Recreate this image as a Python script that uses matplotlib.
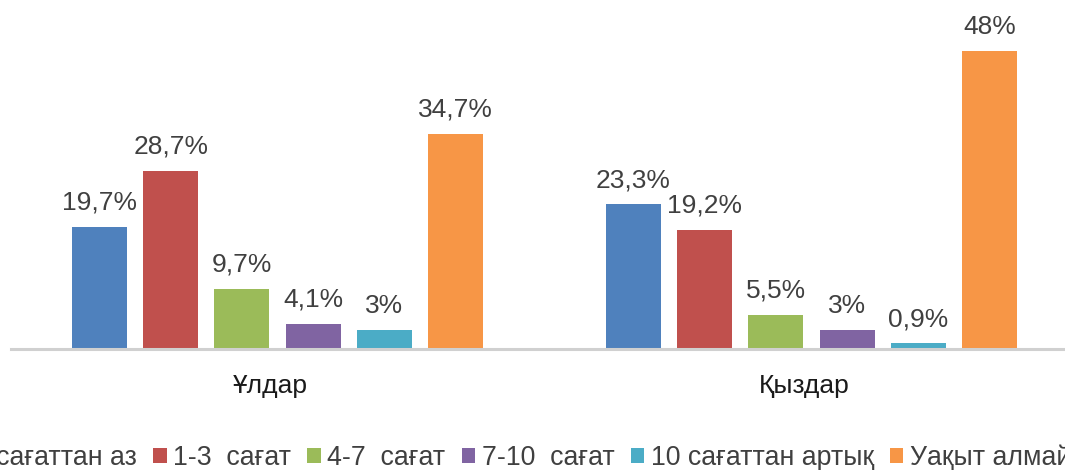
import matplotlib
matplotlib.use("Agg")
import matplotlib.pyplot as plt
import matplotlib.transforms as mtransforms
import numpy as np

plt.rcParams['font.family'] = ['Liberation Sans', 'DejaVu Sans']

categories = ["Ұлдар", "Қыздар"]
series_names = ["1 сағаттан аз", "1-3  сағат", "4-7  сағат", "7-10  сағат",
                "10 сағаттан артық", "Уақыт алмаймын"]
values = [
    [19.7, 23.3],
    [28.7, 19.2],
    [9.7, 5.5],
    [4.1, 3.0],
    [3.0, 0.9],
    [34.7, 48.0],
]
value_labels = [
    ["19,7%", "23,3%"],
    ["28,7%", "19,2%"],
    ["9,7%", "5,5%"],
    ["4,1%", "3%"],
    ["3%", "0,9%"],
    ["34,7%", "48%"],
]
colors = ["#4F81BD", "#C0504D", "#9BBB59", "#8064A2", "#4BACC6", "#F79646"]

W, H = 1065, 470
fig = plt.figure(figsize=(W / 100, H / 100), dpi=100)
ax_left_px, ax_right_px = 10.5, 1078.5
ax_bottom_px = 121
ax = fig.add_axes([ax_left_px / W, ax_bottom_px / H,
                   (ax_right_px - ax_left_px) / W, (H - ax_bottom_px) / H])
ax.set_xlim(-0.5, 1.5)
ax.set_ylim(0, 349 / 6.21)

x = np.arange(len(categories))
step = 71.2 / 534
width = 55 / 534
text_color = "#404040"
for i, (name, vals) in enumerate(zip(series_names, values)):
    pos = x + (i - 2.5) * step
    ax.bar(pos, vals, width, color=colors[i], label=name, zorder=2)
    for p, v, lab in zip(pos, vals, value_labels[i]):
        ax.annotate(lab, (p, v), xytext=(0, 12.2), textcoords="offset points",
                    ha="center", va="baseline", fontsize=19, color=text_color)

for s in ["top", "right", "left"]:
    ax.spines[s].set_visible(False)
ax.spines["bottom"].set_color("#D0D0D0")
ax.spines["bottom"].set_linewidth(2.2)
ax.set_yticks([])
ax.set_xticks(x)
ax.set_xticklabels(categories, fontsize=19, color="#1a1a1a")
ax.tick_params(axis="x", length=0, pad=18)
shift = mtransforms.ScaledTranslation(-7.5 / 100, 0, fig.dpi_scale_trans)
for lbl in ax.get_xticklabels():
    lbl.set_transform(lbl.get_transform() + shift)

fig.legend(loc="center", bbox_to_anchor=(539 / W, 1 - 458 / H), ncol=6,
           frameon=False, fontsize=19.3, handlelength=0.5, handleheight=0.5,
           handletextpad=0.25, columnspacing=0.6, labelcolor="#404040")

fig.savefig("out.png", dpi=100)
